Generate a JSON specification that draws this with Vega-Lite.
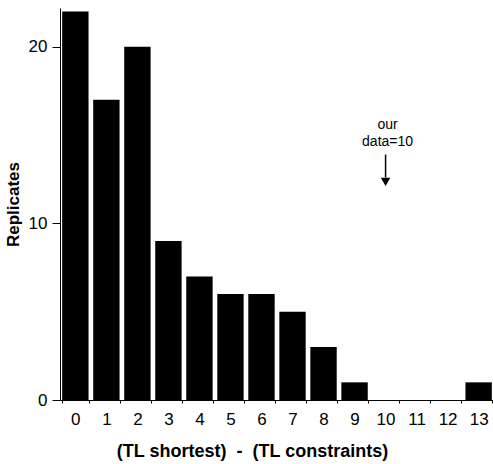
{
  "$schema": "https://vega.github.io/schema/vega-lite/v6.json",
  "width": 434,
  "height": 392,
  "autosize": {"type": "none"},
  "padding": {"left": 60, "top": 8, "right": 0, "bottom": 64},
  "background": "white",
  "config": {
    "view": {"stroke": null},
    "font": "Liberation Sans"
  },
  "datasets": {
    "bars": [
      {"d": 0, "n": 22}, {"d": 1, "n": 17}, {"d": 2, "n": 20}, {"d": 3, "n": 9},
      {"d": 4, "n": 7}, {"d": 5, "n": 6}, {"d": 6, "n": 6}, {"d": 7, "n": 5},
      {"d": 8, "n": 3}, {"d": 9, "n": 1}, {"d": 10, "n": 0}, {"d": 11, "n": 0},
      {"d": 12, "n": 0}, {"d": 13, "n": 1}
    ],
    "labels": [
      {"d": 10, "y": 15.6, "t": "our"},
      {"d": 10, "y": 14.6, "t": "data=10"}
    ],
    "arrow": [
      {"d": 10, "y1": 13.9, "y2": 12.6, "head": 12.35}
    ]
  },
  "layer": [
    {
      "data": {"name": "bars"},
      "mark": {"type": "bar", "color": "black"},
      "encoding": {
        "x": {
          "field": "d", "type": "ordinal",
          "scale": {"domain": [0,1,2,3,4,5,6,7,8,9,10,11,12,13], "paddingInner": 0.15, "paddingOuter": 0.07},
          "axis": {
            "title": "(TL shortest)\u00a0\u00a0-\u00a0\u00a0(TL constraints)",
            "titleFontSize": 18, "titleFontWeight": "bold", "titlePadding": 15,
            "titleX": 192,
            "labelAngle": 0, "labelFontSize": 17, "labelPadding": 8,
            "tickBand": "extent", "tickSize": 3, "domainColor": "black", "tickColor": "black",
            "labelColor": "black", "titleColor": "black"
          }
        },
        "y": {
          "field": "n", "type": "quantitative",
          "scale": {"domain": [0, 22.2], "nice": false},
          "axis": {
            "title": "Replicates", "titleFontSize": 17, "titleFontWeight": "bold", "titlePadding": 6,
            "values": [0, 10, 20], "grid": false, "labelFontSize": 17, "tickSize": 8,
            "labelPadding": 5, "domainColor": "black", "tickColor": "black",
            "labelColor": "black", "titleColor": "black"
          }
        }
      }
    },
    {
      "data": {"name": "labels"},
      "mark": {"type": "text", "fontSize": 14, "color": "black", "baseline": "middle", "dx": 2},
      "encoding": {
        "x": {"field": "d", "type": "ordinal"},
        "y": {"field": "y", "type": "quantitative"},
        "text": {"field": "t"}
      }
    },
    {
      "data": {"name": "arrow"},
      "mark": {"type": "rule", "color": "black", "strokeWidth": 1.5, "dx": -3},
      "encoding": {
        "x": {"field": "d", "type": "ordinal"},
        "y": {"field": "y1", "type": "quantitative"},
        "y2": {"field": "y2"}
      }
    },
    {
      "data": {"name": "arrow"},
      "mark": {"type": "point", "shape": "triangle-down", "filled": true, "color": "black", "size": 90, "opacity": 1, "dx": -3},
      "encoding": {
        "x": {"field": "d", "type": "ordinal"},
        "y": {"field": "head", "type": "quantitative"}
      }
    }
  ]
}
